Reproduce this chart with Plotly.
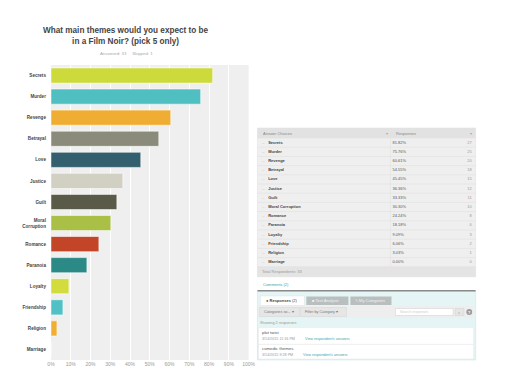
import plotly.graph_objects as go

# ---------------- data ----------------
themes = ["Secrets", "Murder", "Revenge", "Betrayal", "Love", "Justice", "Guilt",
          "Moral Corruption", "Romance", "Paranoia", "Loyalty", "Friendship",
          "Religion", "Marriage"]
tick_labels = ["Secrets", "Murder", "Revenge", "Betrayal", "Love", "Justice", "Guilt",
               "Moral<br>Corruption", "Romance", "Paranoia", "Loyalty", "Friendship",
               "Religion", "Marriage"]
percents = [81.82, 75.76, 60.61, 54.55, 45.45, 36.36, 33.33, 30.30, 24.24, 18.18,
            9.09, 6.06, 3.03, 0.00]
counts = [27, 25, 20, 18, 15, 12, 11, 10, 8, 6, 3, 2, 1, 0]
bar_colors = ["#cdda3c", "#50bfc1", "#efae33", "#8a8b7a", "#345f6e", "#d1d0c3",
              "#5a5a49", "#a9bf45", "#c34528", "#2b8986", "#d2dc3c", "#52c1c6",
              "#f0af32", "#cccccc"]
answered = 33
skipped = 1
x_ticks = [i / 10 for i in range(11)]
x_tick_text = [f"{i * 10}%" for i in range(11)]
comments = [("plot twist", "3/14/2015 11:16 PM"), ("comedic themes", "3/14/2015 9:28 PM")]

W, H = 511, 381


def px(x):
    return x / W


def py(y):
    return 1 - y / H


FONT = "Liberation Sans, Arial, sans-serif"
fig = go.Figure()

# ---------------- bar chart ----------------
fig.add_trace(go.Bar(
    x=[p / 100 for p in percents], y=tick_labels, orientation="h",
    marker=dict(color=bar_colors, line=dict(color="rgba(255,255,255,0.55)", width=1)),
    width=0.72, hoverinfo="skip", showlegend=False,
))

# ---------------- answer table (pixel-unit axis) ----------------
tx0, tx1, tdiv = 259, 482, 395
t_top, header_h, row_h = 128, 10, 9.2
n = len(themes)
row_y = [t_top + header_h + row_h * (i + 0.5) for i in range(n)]
t_rows_bottom = t_top + header_h + row_h * n
total_h = 10

common = dict(xaxis="x2", yaxis="y2", mode="text", hoverinfo="skip", showlegend=False)
fig.add_trace(go.Scatter(x=[264] * n, y=row_y, text=["–"] * n, textposition="middle right",
                         textfont=dict(size=4, color="#bbbbbb", family=FONT), **common))
fig.add_trace(go.Scatter(x=[270] * n, y=row_y, text=themes, textposition="middle right",
                         textfont=dict(size=4, color="#444444", family=FONT, weight="bold"),
                         **common))
fig.add_trace(go.Scatter(x=[397] * n, y=row_y, text=[f"{p:.2f}%" for p in percents],
                         textposition="middle right",
                         textfont=dict(size=4, color="#555555", family=FONT), **common))
fig.add_trace(go.Scatter(x=[478] * n, y=row_y, text=[str(c) for c in counts],
                         textposition="middle left",
                         textfont=dict(size=4, color="#999999", family=FONT), **common))

fig.update_layout(
    width=W, height=H, margin=dict(l=0, r=0, t=0, b=0),
    paper_bgcolor="white", plot_bgcolor="#efefef",
    font=dict(family=FONT),
    xaxis=dict(domain=[px(48), px(250)], range=[0, 1], tickvals=x_ticks,
               ticktext=x_tick_text, showgrid=True, gridcolor="#ffffff", gridwidth=1,
               zeroline=False, showline=False, ticks="",
               tickfont=dict(size=5, color="#999999"), fixedrange=True),
    yaxis=dict(domain=[py(360), py(65)], autorange="reversed", showgrid=False,
               ticks="", ticklabelstandoff=4, showline=False,
               tickfont=dict(size=4.6, color="#444444", family=FONT, weight="bold"),
               fixedrange=True),
    xaxis2=dict(domain=[px(tx0), px(tx1)], range=[tx0, tx1], visible=False, fixedrange=True),
    yaxis2=dict(domain=[py(t_rows_bottom + total_h), py(t_top)],
                range=[t_rows_bottom + total_h, t_top], visible=False, fixedrange=True),
    bargap=0.28,
)

annotations = []
shapes = []


def rect(x0, y0, x1, y1, fill, line=None, lw=0, layer="above"):
    shapes.append(dict(type="rect", xref="paper", yref="paper",
                       x0=px(x0), x1=px(x1), y0=py(y1), y1=py(y0),
                       fillcolor=fill, line=dict(color=line or fill, width=lw), layer=layer))


def hline(x0, x1, y, color, w):
    shapes.append(dict(type="line", xref="paper", yref="paper", x0=px(x0), x1=px(x1),
                       y0=py(y), y1=py(y), line=dict(color=color, width=w), layer="below"))


def text(x, y, s, size, color, anchor="left"):
    annotations.append(dict(x=px(x), y=py(y), xref="paper", yref="paper", xanchor=anchor,
                            yanchor="middle", text=s, showarrow=False,
                            font=dict(size=size, color=color)))


# title
annotations.append(dict(
    x=px(125), y=py(35.5), xref="paper", yref="paper", xanchor="center", yanchor="middle",
    text="<b>What main themes would you expect to be<br>in a Film Noir? (pick 5 only)</b>",
    showarrow=False, font=dict(size=8.2, color="#444444")))
text(125, 53, f"Answered: {answered}     Skipped: {skipped}", 4.3, "#aaaaaa", "center")

# table frame
rect(tx0, t_top, tx1, t_top + header_h, "#e2e2e2", layer="below")
rect(tx0, t_rows_bottom, tx1, t_rows_bottom + total_h, "#e4e4e4", layer="below")
for i in range(n + 1):
    hline(tx0, tx1, t_top + header_h + row_h * i, "#e2e2e2", 0.7)
shapes.append(dict(type="line", xref="paper", yref="paper", x0=px(tdiv), x1=px(tdiv),
                   y0=py(t_rows_bottom), y1=py(t_top), line=dict(color="#e2e2e2", width=0.7),
                   layer="below"))
rect(tx0, t_top, tx1, t_rows_bottom + total_h, "rgba(0,0,0,0)", "#e2e2e2", 0.6, "below")
text(263, t_top + header_h / 2, "Answer Choices", 4, "#888888")
text(399, t_top + header_h / 2, "Responses", 4, "#888888")
text(391, t_top + header_h / 2, "▾", 4, "#aaaaaa", "center")
text(477, t_top + header_h / 2, "▾", 4, "#aaaaaa", "center")
text(262, t_rows_bottom + total_h / 2, f"Total Respondents: {answered}", 4, "#999999")

# comments link
text(263, 284.5, "Comments (2)", 4, "#3aa6a6")

# ---------------- comments panel ----------------
rect(259, 291, 482, 360, "#e5f4f4", "#cfe6e6", 0.6)
shapes.append(dict(type="line", xref="paper", yref="paper", x0=px(259), x1=px(482),
                   y0=py(290.8), y1=py(290.8), line=dict(color="#8a8a8a", width=1.6)))
# tabs
rect(262, 296, 307, 305.5, "white", "#d5e5e5", 0.5)
rect(309, 296.5, 352, 305, "#b9bfbf")
rect(354, 296.5, 396, 305, "#b9bfbf")
text(266, 300.8, "● <b>Responses</b> (2)", 4, "#444444")
text(313, 300.8, "■ Text Analysis", 4, "#f2f2f2")
text(357, 300.8, "✎ My Categories", 4, "#f2f2f2")
# toolbar
rect(260, 306, 480, 318, "#eeeeee")
rect(261, 307.5, 302, 316.5, "#e6e6e6", "#d0d0d0", 0.4)
rect(303, 307.5, 350, 316.5, "#e6e6e6", "#d0d0d0", 0.4)
text(264, 312, "Categories so... ▾", 3.8, "#777777")
text(306, 312, "Filter by Category ▾", 3.8, "#777777")
rect(400, 308.5, 459, 315.5, "white", "#cccccc", 0.5)
text(403, 312, "Search responses", 3.5, "#cccccc")
rect(461, 308.5, 470, 315.5, "#e6e6e6", "#cccccc", 0.4)
text(465.5, 312, "⌕", 4, "#888888", "center")
shapes.append(dict(type="circle", xref="paper", yref="paper", x0=px(472.5), x1=px(478.5),
                   y0=py(315), y1=py(309), fillcolor="#9a9a9a", line=dict(width=0),
                   layer="above"))
text(475.5, 312, "<b>?</b>", 4, "white", "center")
text(260, 323, "Showing 2 responses", 3.8, "#999999")
# response list
rect(260, 327.5, 480, 359, "white", "#e0e0e0", 0.4)
shapes.append(dict(type="line", xref="paper", yref="paper", x0=px(260), x1=px(480),
                   y0=py(344.3), y1=py(344.3), line=dict(color="#e0e0e0", width=0.6),
                   layer="above"))
for i, (txt, dt) in enumerate(comments):
    y0 = 332.5 + i * 16
    text(262, y0, txt, 4.3, "#555555")
    text(262, y0 + 6, dt, 3.7, "#999999")
    text(306 - 2 * i, y0 + 6, "View respondent's answers", 3.7, "#3aa6a6")

fig.update_layout(annotations=annotations, shapes=shapes)
fig.write_html("out.html", config={"displayModeBar": False},
               post_script="document.body.style.margin='0';")
